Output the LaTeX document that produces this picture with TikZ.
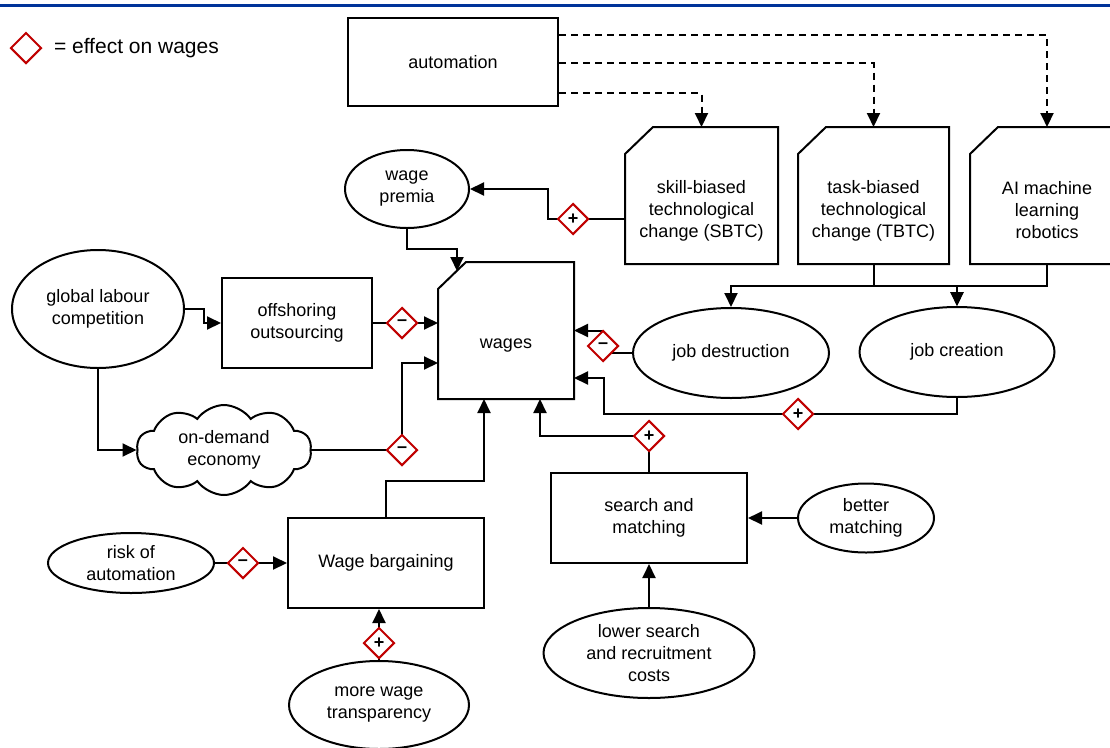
\documentclass[tikz,border=0pt]{standalone}
\usepackage{fontspec}
\setmainfont{Liberation Sans}
\usetikzlibrary{shapes.geometric,shapes.symbols,arrows.meta,backgrounds}

\definecolor{effred}{RGB}{192,0,0}
\definecolor{topblue}{RGB}{0,51,153}

% box with the top left corner cut off
\newcommand{\cutcorner}[1]{%
  \draw ([yshift=-27pt]#1.north west) -- ([xshift=28pt]#1.north west) -- (#1.north east) -- (#1.south east) -- (#1.south west) -- cycle;}

\begin{document}
\begin{tikzpicture}[x=1pt, y=-1pt, line width=2pt,
  every node/.style={font=\fontsize{18}{22}\selectfont, align=center},
  box/.style={draw, rectangle, inner sep=0pt},
  cutbox/.style={rectangle, inner sep=0pt},
  oval/.style={draw, ellipse, inner sep=0pt},
  effect/.style={diamond, draw=effred, fill=white, line width=2pt, minimum width=31pt, minimum height=31pt, inner sep=0pt, font=\fontsize{18}{18}\selectfont\bfseries},
  arr/.style={line width=2pt, -{Triangle[length=14pt,width=13pt]}},
  dashline/.style={dash pattern=on 7pt off 5pt}]
  \useasboundingbox (0,0) rectangle (1110,747);
  \draw[topblue, line width=3pt] (0,5) -- (1110,5);

  % legend
  \node[effect] (key) at (26,48) {};
  \node[anchor=west, inner sep=0pt, font=\fontsize{21}{25}\selectfont] (keytext) at (53,48) {= effect on wages};

  % nodes
  \node[box, minimum width=210, minimum height=88] (auto) at (453,62) {automation};
  \node[cutbox, minimum width=151, minimum height=135, label={[yshift=-15pt]center:skill-biased\\technological\\change (SBTC)}] (sbtc) at (701.5,195.5) {};
  \node[cutbox, minimum width=149, minimum height=135, label={[yshift=-15pt]center:task-biased\\technological\\change (TBTC)}] (tbtc) at (873.5,195.5) {};
  \node[cutbox, minimum width=152, minimum height=135, label={[yshift=-15pt]center:AI machine\\learning\\robotics}] (ai) at (1047,195.5) {};
  \node[cutbox, minimum width=134, minimum height=135, label={[yshift=-15pt]center:wages}] (wages) at (506,330.5) {};
  \node[oval, minimum width=124, minimum height=78] (wprem) at (407,189) {wage\\premia};
  \node[oval, minimum width=172, minimum height=118] (glc) at (98,309) {global labour\\competition};
  \node[box, minimum width=150, minimum height=90] (offs) at (297,323) {offshoring\\outsourcing};
  \node[draw, cloud, cloud puffs=10, cloud puff arc=110, aspect=2, minimum width=175, minimum height=90, inner sep=0pt] (ondem) at (224,450) {on-demand\\economy};
  \node[box, minimum width=196, minimum height=90] (wbarg) at (386,563) {Wage bargaining};
  \node[oval, minimum width=166, minimum height=60] (risk) at (131,563) {risk of\\automation};
  \node[oval, minimum width=180, minimum height=88] (transp) at (379,705) {more wage\\transparency};
  \node[box, minimum width=196, minimum height=90] (search) at (649,518) {search and\\matching};
  \node[oval, minimum width=136, minimum height=69] (better) at (866,518) {better\\matching};
  \node[oval, minimum width=211, minimum height=90] (lower) at (649,653) {lower search\\and recruitment\\costs};
  \node[oval, minimum width=196, minimum height=90] (jdest) at (731,353) {job destruction};
  \node[oval, minimum width=195, minimum height=90] (jcre) at (957,352) {job creation};

  \cutcorner{sbtc}
  \cutcorner{tbtc}
  \cutcorner{ai}
  \cutcorner{wages}

  % effects on wages
  \node[effect] (dsbtc) at (573,219) {+};
  \node[effect] (doffs) at (402,323) {--};
  \node[effect] (dondem) at (402,450) {--};
  \node[effect] (djd) at (603,346) {--};
  \node[effect] (djc) at (798,414) {+};
  \node[effect] (dsm) at (649,436) {+};
  \node[effect] (drisk) at (243,563) {--};
  \node[effect] (dtransp) at (379,643) {+};

  % connectors
  \begin{pgfonlayer}{background}
  \draw[arr, dashline] ([yshift=27pt]auto.east) -| (ai.north);
  \draw[arr, dashline] ([yshift=-1pt]auto.east) -| (tbtc.north);
  \draw[arr, dashline] ([yshift=-31pt]auto.east) -| (sbtc.north);
  \draw[arr] (tbtc.south) -- ++(0,22) -| (jdest.north);
  \draw[arr] (tbtc.south) -- ++(0,22) -| (jcre.north);
  \draw[arr] (ai.south) -- ++(0,22) -| (jcre.north);
  \draw[arr] ([yshift=-23.5pt]sbtc.west) -- (dsbtc.center) -- ++(-25,0) |- (wprem.east);
  \draw[arr] (wprem.south) -- ++(0,20) -| ([xshift=-49pt,yshift=-9pt]wages.north);
  \draw[arr] (glc.east) -- ++(19,0) |- (offs.west);
  \draw[arr] (offs.east) -- (wages.west |- offs.east);
  \draw[arr] (glc.south) |- (ondem.west);
  \draw[arr] (ondem.east) -| (dondem.center) |- ([yshift=-32.5pt]wages.west);
  \draw[arr] (jdest.west) -| (djd.center) |- (wages.east);
  \draw[arr] (jcre.south) |- (djc.center) -- ++(-194,0) |- ([yshift=-47.5pt]wages.east);
  \draw[arr] (search.north) -- (dsm.center) -| ([xshift=34pt]wages.south);
  \draw[arr] (wbarg.north) -- ++(0,-36) -| ([xshift=-22pt]wages.south);
  \draw[arr] (risk.east) -- (wbarg.west);
  \draw[arr] (transp.north) -- (transp.north |- wbarg.south);
  \draw[arr] (lower.north) -- (search.south);
  \draw[arr] (better.west) -- (search.east);
  \end{pgfonlayer}
\end{tikzpicture}
\end{document}
